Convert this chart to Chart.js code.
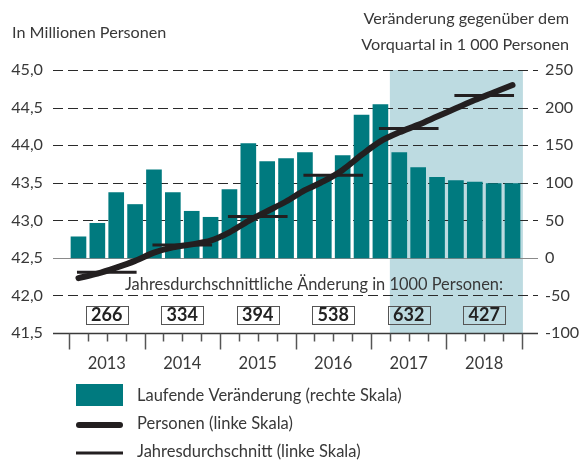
<!DOCTYPE html>
<html><head><meta charset="utf-8">
<script src="https://cdn.jsdelivr.net/npm/chart.js@4/dist/chart.umd.min.js"></script>
<style>html,body{margin:0;padding:0;background:#fff}#wrap{width:579px;height:462px;position:relative}</style>
</head><body><div id="wrap"><canvas id="c" width="579" height="462"></canvas></div>
<script>
// ---- data ----
const years = ['2013', '2014', '2015', '2016', '2017', '2018'];
const quarters = ['2013 Q1','2013 Q2','2013 Q3','2013 Q4','2014 Q1','2014 Q2','2014 Q3','2014 Q4',
  '2015 Q1','2015 Q2','2015 Q3','2015 Q4','2016 Q1','2016 Q2','2016 Q3','2016 Q4',
  '2017 Q1','2017 Q2','2017 Q3','2017 Q4','2018 Q1','2018 Q2','2018 Q3','2018 Q4'];
// Laufende Veränderung gegenüber Vorquartal (1000 Personen, rechte Skala)
const changeValues = [28, 46, 87, 71, 117, 87, 62, 54, 91, 152, 128, 132,
  140, 108, 136, 190, 204, 140, 120, 107, 103, 101, 99, 99];
// Personen (Mio., linke Skala)
const persons = [42.23, 42.29, 42.37, 42.46, 42.57, 42.64, 42.68, 42.73,
  42.84, 42.99, 43.12, 43.25, 43.40, 43.52, 43.67, 43.87,
  44.05, 44.17, 44.27, 44.38, 44.49, 44.60, 44.70, 44.80];
// Jahresdurchschnitt (Mio., linke Skala)
const annualAverage = [42.31, 42.67, 43.05, 43.60, 44.22, 44.66];
// Jahresdurchschnittliche Änderung in 1000 Personen
const annualChange = ['266', '334', '394', '538', '632', '427'];
const forecastStart = '2017 Q2';
const leftTitle = 'In Millionen Personen';
const rightTitle = ['Veränderung gegenüber dem', 'Vorquartal in 1 000 Personen'];
const noteText = 'Jahresdurchschnittliche Änderung in 1000 Personen:';
const legendLabels = ['Laufende Veränderung (rechte Skala)', 'Personen (linke Skala)', 'Jahresdurchschnitt (linke Skala)'];

// ---- styles ----
const FONT = 'Lato';
const TXT = '#383838';
const TEAL = '#007a7f';
const DARK = '#231f20';
const SHADE = '#bddbe1';

const barData = changeValues.map((v, i) => ({ x: i, y: v }));
const lineData = persons.map((v, i) => ({ x: i, y: v }));
const avgData = [];
annualAverage.forEach((v, k) => {
  avgData.push({ x: 4 * k - 0.08, y: v }, { x: 4 * k + 3.08, y: v }, { x: 4 * k + 3.5, y: null });
});

const decor = {
  id: 'decor',
  beforeDatasetsDraw(chart) {
    const ctx = chart.ctx;
    const { left, right, top, bottom } = chart.chartArea;
    const xs = chart.scales.x, ys = chart.scales.y, y2 = chart.scales.y2;
    ctx.save();
    // forecast shading
    const fi = quarters.indexOf(forecastStart);
    const sx0 = xs.getPixelForValue(fi - 0.5), sx1 = xs.getPixelForValue(quarters.length - 0.45);
    ctx.fillStyle = SHADE;
    ctx.fillRect(sx0, top, sx1 - sx0, bottom - top);
    // grid lines
    ys.ticks.forEach(t => {
      const py = Math.round(ys.getPixelForValue(t.value)) + 0.5;
      if (t.value === ys.min) return;
      const isZero = Math.abs(y2.getPixelForValue(0) - ys.getPixelForValue(t.value)) < 1;
      ctx.beginPath();
      if (isZero) { ctx.setLineDash([]); ctx.strokeStyle = '#8a8a8a'; ctx.lineWidth = 1.2; }
      else { ctx.setLineDash([10, 5]); ctx.strokeStyle = '#2a2a2a'; ctx.lineWidth = 1; }
      ctx.moveTo(left, py); ctx.lineTo(right, py); ctx.stroke();
    });
    ctx.setLineDash([]);
    // bottom axis
    const by = Math.round(ys.getPixelForValue(ys.min)) + 0.5;
    ctx.strokeStyle = '#3a3a3a'; ctx.lineWidth = 1.5;
    ctx.beginPath(); ctx.moveTo(left, by); ctx.lineTo(right, by); ctx.stroke();
    // quarter ticks
    ctx.strokeStyle = '#555'; ctx.lineWidth = 1.5;
    for (let q = 0; q <= quarters.length; q++) {
      const px = Math.round(xs.getPixelForValue(q - 0.5)) + 0.5;
      const len = q % 4 === 0 ? 16 : 8;
      ctx.beginPath(); ctx.moveTo(px, by); ctx.lineTo(px, by + len); ctx.stroke();
    }
    ctx.restore();
  },
  afterDraw(chart) {
    const ctx = chart.ctx;
    const xs = chart.scales.x;
    ctx.save();
    ctx.fillStyle = TXT;
    ctx.textBaseline = 'middle';
    ctx.font = '16.2px ' + FONT;
    ctx.textAlign = 'left';
    ctx.fillText(leftTitle, 12, 33);
    ctx.textAlign = 'right';
    ctx.fillText(rightTitle[0], 569, 19);
    ctx.fillText(rightTitle[1], 569, 45);
    // note
    ctx.font = '16.4px ' + FONT;
    ctx.textAlign = 'left';
    ctx.fillText(noteText, 125, 285);
    // boxes
    ctx.font = 'bold 18px ' + FONT;
    ctx.textAlign = 'center';
    annualChange.forEach((s, i) => {
      const cx = xs.getPixelForValue(4 * i + 1.5);
      const w = 42, h = 18, cy = 314.5;
      ctx.strokeStyle = '#555'; ctx.lineWidth = 1;
      ctx.strokeRect(Math.round(cx - w / 2) + 0.5, Math.round(cy - h / 2) + 0.5, w, h);
      ctx.fillStyle = '#222';
      ctx.fillText(s, cx, cy + 1);
    });
    // legend
    ctx.font = '16.5px ' + FONT;
    ctx.textAlign = 'left';
    ctx.fillStyle = TEAL;
    ctx.fillRect(76, 384, 47, 22);
    ctx.strokeStyle = DARK; ctx.lineCap = 'round';
    ctx.lineWidth = 6;
    ctx.beginPath(); ctx.moveTo(79, 425); ctx.lineTo(120, 425); ctx.stroke();
    ctx.lineCap = 'butt'; ctx.lineWidth = 3;
    ctx.beginPath(); ctx.moveTo(76, 453); ctx.lineTo(123, 453); ctx.stroke();
    ctx.fillStyle = TXT;
    ctx.fillText(legendLabels[0], 137, 396);
    ctx.fillText(legendLabels[1], 137, 424);
    ctx.fillText(legendLabels[2], 137, 452);
    ctx.restore();
  }
};

new Chart(document.getElementById('c'), {
  type: 'bar',
  data: {
    datasets: [
      { type: 'line', label: legendLabels[1], data: lineData, yAxisID: 'y', xAxisID: 'x',
        borderColor: DARK, borderWidth: 6, pointRadius: 0, tension: 0.3,
        borderCapStyle: 'round', borderJoinStyle: 'round', order: 1 },
      { type: 'line', label: legendLabels[2], data: avgData, yAxisID: 'y', xAxisID: 'x',
        borderColor: DARK, borderWidth: 3, pointRadius: 0, tension: 0, spanGaps: false, order: 2 },
      { type: 'bar', label: legendLabels[0], data: barData, yAxisID: 'y2', xAxisID: 'x',
        backgroundColor: TEAL, barThickness: 15, order: 3 }
    ]
  },
  options: {
    responsive: false, animation: false, devicePixelRatio: 1,
    layout: { padding: { top: 70, left: 0, right: 0, bottom: 0 } },
    plugins: { legend: { display: false }, tooltip: { enabled: false } },
    scales: {
      x: {
        type: 'linear', min: -1.35, max: 24.35, offset: false,
        grid: { display: false, drawTicks: false }, border: { display: false },
        afterBuildTicks: s => { s.ticks = years.map((y, i) => ({ value: 4 * i + 1.5 })); },
        ticks: { autoSkip: false, maxRotation: 0, padding: 21, color: TXT,
          font: { family: FONT, size: 16.5 }, callback: (v, i) => years[i] },
        afterFit: s => { s.height = 129; }
      },
      y: {
        position: 'left', min: 41.5, max: 45,
        grid: { display: false, drawTicks: false }, border: { display: false },
        ticks: { stepSize: 0.5, padding: 10, color: TXT, font: { family: FONT, size: 16.2 },
          callback: v => v.toFixed(1).replace('.', ',') },
        afterFit: s => { s.width = 53; }
      },
      y2: {
        position: 'right', min: -100, max: 250,
        grid: { display: false, drawTicks: false }, border: { display: false },
        ticks: { stepSize: 50, padding: 7, color: TXT, font: { family: FONT, size: 16.2 },
          callback: v => String(v) },
        afterFit: s => { s.width = 41; }
      }
    }
  },
  plugins: [decor]
});
</script></body></html>
